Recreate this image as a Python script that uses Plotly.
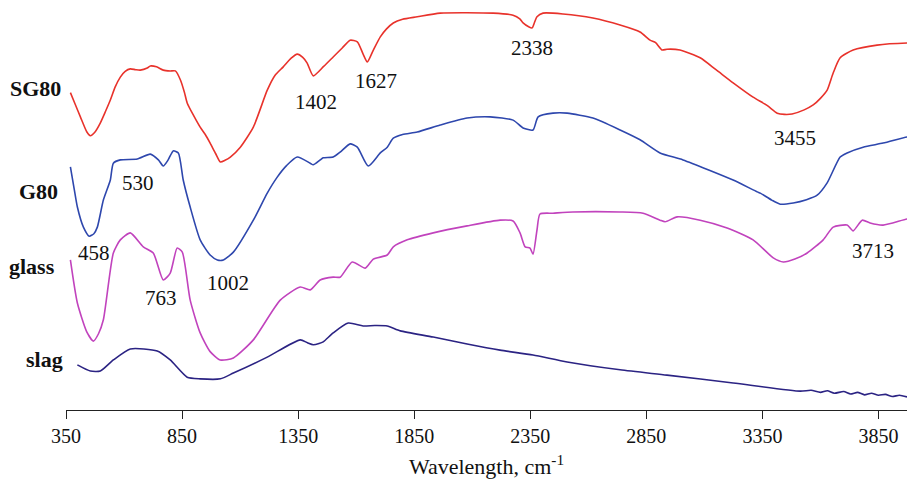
import plotly.graph_objects as go

# FTIR transmittance spectra (offset, arbitrary %T units) vs wavenumber
sg80_wn = [369, 390, 412, 440, 455, 475, 497, 520, 541, 562, 584, 605, 627, 650, 670, 700, 713, 740,
           769, 799, 821, 843, 860, 872, 900, 928, 950, 971, 995, 1015, 1035, 1058, 1101, 1157, 1217,
           1250, 1286, 1320, 1346, 1370, 1389, 1415, 1460, 1501, 1540, 1574, 1605, 1630, 1648, 1674,
           1704, 1730, 1760, 1800, 1863, 1962, 2190, 2276, 2305, 2319, 2345, 2358, 2370, 2379, 2405,
           2491, 2620, 2737, 2823, 2866, 2890, 2918, 2939, 2995, 3082, 3150, 3224, 3310, 3370, 3414,
           3445, 3478, 3530, 3569, 3600, 3629, 3655, 3685, 3741, 3844, 3973, 4000]
sg80_t = [77.4, 74.5, 71.5, 67.8, 66.9, 67.8, 69.9, 72.8, 75.6, 78.8, 81.2, 82.6, 83.2, 83.0, 82.9, 83.4,
          83.9, 83.7, 82.9, 82.7, 82.7, 80.5, 77.5, 74.9, 71.8, 69.0, 67.2, 65.1, 62.5, 60.5, 60.9,
          61.7, 64.1, 69.0, 78.0, 81.6, 83.7, 85.8, 86.8, 86.0, 84.6, 81.5, 83.8, 86.1, 88.3, 90.2,
          89.8, 86.8, 84.9, 87.8, 91.0, 92.9, 94.4, 95.3, 95.9, 96.8, 96.8, 96.3, 95.4, 94.4, 93.4,
          93.2, 94.8, 95.9, 96.8, 96.6, 95.6, 93.9, 92.2, 90.2, 89.6, 87.8, 88.0, 87.8, 85.9, 83.0,
          79.8, 76.3, 74.3, 72.4, 72.1, 72.2, 73.2, 74.4, 76.0, 78.0, 82.2, 85.9, 87.8, 89.0, 89.5, 89.5]

g80_wn = [369, 385, 399, 425, 450, 470, 485, 511, 541, 554, 584, 657, 713, 748, 769, 790, 812, 834,
          855, 885, 928, 971, 1002, 1028, 1071, 1157, 1217, 1260, 1300, 1346, 1402, 1415, 1445,
          1458, 1501, 1531, 1574, 1605, 1652, 1704, 1734, 1760, 1800, 1863, 1962, 2078, 2177,
          2276, 2319, 2362, 2384, 2448, 2509, 2620, 2737, 2823, 2909, 3008, 3224, 3328,
          3341, 3390, 3427, 3483, 3540, 3586, 3629, 3685, 3715, 3784, 3870, 3973, 4000]
g80_t = [59.3, 54.0, 49.5, 44.6, 42.4, 43.0, 44.6, 51.2, 56.1, 60.2, 61.0, 61.2, 62.4, 61.0, 59.5, 61.0,
         63.2, 62.7, 56.1, 49.5, 41.5, 37.8, 36.6, 36.6, 38.5, 46.3, 52.9, 56.8, 59.6, 61.7, 60.2,
         59.8, 61.0, 61.5, 61.7, 62.9, 64.9, 64.1, 59.5, 62.7, 64.1, 66.3, 67.2, 67.8, 69.5, 71.2,
         71.5, 70.7, 68.8, 68.3, 71.5, 72.4, 72.4, 71.2, 68.3, 65.9, 62.7, 61.0, 56.1, 53.2,
         52.9, 51.2, 50.2, 50.5, 51.3, 52.4, 55.4, 61.7, 62.7, 64.1, 65.1, 66.6, 66.8]

glass_wn = [369, 399, 440, 468, 490, 511, 554, 584, 627, 683, 726, 769, 799, 829, 851, 885, 928, 970,
            1015, 1071, 1157, 1273, 1359, 1402, 1445, 1501, 1531, 1583, 1639, 1674, 1734, 1760,
            1820, 1932, 2078, 2220, 2276, 2306, 2328, 2349, 2362, 2379, 2392, 2448, 2534,
            2737, 2836, 2909, 2931, 2983, 3082, 3198, 3310, 3397, 3440, 3490, 3543, 3612, 3655,
            3715, 3741, 3780, 3814, 3870, 3973, 4000]
glass_t = [36.6, 26.1, 19.0, 16.8, 18.6, 22.0, 38.3, 41.5, 43.2, 39.8, 38.3, 31.7, 33.4, 39.5, 38.5, 26.8,
           18.8, 14.3, 12.2, 12.7, 17.1, 26.8, 30.0, 29.3, 31.7, 32.4, 32.4, 36.1, 34.6, 36.8, 37.8,
           39.8, 41.5, 43.2, 44.9, 46.3, 46.1, 43.2, 39.8, 39.5, 38.0, 43.9, 47.8, 48.0, 48.3,
           48.3, 48.0, 46.3, 45.9, 47.1, 46.3, 44.4, 41.5, 37.1, 36.1, 36.8, 38.3, 41.5, 44.6,
           45.1, 43.7, 46.3, 45.6, 45.1, 46.6, 46.7]

slag_wn = [399, 455, 498, 554, 627, 743, 799, 872, 928, 1015, 1071, 1217, 1359, 1390, 1415,
           1440, 1458, 1501, 1566, 1630, 1680, 1734, 1790, 1932, 2078, 2220, 2362,
           2509, 2737, 2939, 3224, 3513, 3560, 3600, 3630, 3660, 3700, 3730, 3760, 3790,
           3820, 3850, 3880, 3910, 3940, 3973]
slag_t = [11.0, 9.5, 9.5, 12.2, 14.9, 14.4, 12.2, 8.0, 7.6, 7.6, 9.0, 12.9, 17.1, 16.4, 15.9,
          16.2, 16.6, 18.8, 21.2, 20.5, 20.6, 20.5, 19.3, 17.8, 16.1, 14.6, 13.4,
          11.7, 9.8, 8.5, 6.6, 4.6, 4.8, 4.3, 4.7, 4.1, 4.5, 3.9, 4.3, 3.7, 4.1, 3.6, 3.8,
          3.3, 3.6, 3.2]

# band positions written on the plot and where each label sits
band_text = ["458", "530", "763", "1002", "1402", "1627", "2338", "3455", "3713"]
band_x = [472, 661, 760, 1049, 1428, 1686, 2358, 3491, 3827]
band_y = [38.3, 55.4, 27.3, 31.0, 75.1, 80.2, 88.3, 66.3, 38.8]

series_names = ["SG80", "G80", "glass", "slag"]
series_label_y = [78.3, 53.2, 35.1, 12.2]
series_label_shift = [-3, -6, -9, -1]

tick_vals = [350, 850, 1350, 1850, 2350, 2850, 3350, 3850]

fig = go.Figure()
traces = [
    (sg80_wn, sg80_t, "#e8322b"),
    (g80_wn, g80_t, "#2e47ad"),
    (glass_wn, glass_t, "#c143bd"),
    (slag_wn, slag_t, "#2b2383"),
]
for (wx, wy, col), name in zip(traces, series_names):
    fig.add_trace(go.Scatter(x=wx, y=wy, mode="lines", name=name,
                             line=dict(color=col, width=1.6, shape="spline", smoothing=0.6),
                             showlegend=False))

serif = "Liberation Serif, Times New Roman, serif"

for txt, bx, by in zip(band_text, band_x, band_y):
    fig.add_annotation(x=bx, y=by, text=txt, showarrow=False,
                       font=dict(family=serif, size=21, color="#111"))

for name, ly, sh in zip(series_names, series_label_y, series_label_shift):
    fig.add_annotation(xref="paper", x=0, y=ly, yref="y", text=f"<b>{name}</b>",
                       xanchor="right", xshift=sh, showarrow=False,
                       font=dict(family=serif, size=22, color="#111"))

fig.update_xaxes(range=[350, 3973], tickvals=tick_vals, ticks="outside", ticklen=8,
                 tickcolor="#222", showline=True, linecolor="#222", linewidth=1.3,
                 showgrid=False, zeroline=False,
                 tickfont=dict(family=serif, size=20, color="#111"),
                 title=dict(text="Wavelength, cm<sup>-1</sup>", standoff=12,
                            font=dict(family=serif, size=22, color="#111")))
fig.update_yaxes(range=[0, 100], visible=False)

fig.update_layout(width=907, height=480, margin=dict(l=66, r=0, t=0, b=70),
                  paper_bgcolor="white", plot_bgcolor="white")

fig.write_html("out.html")
